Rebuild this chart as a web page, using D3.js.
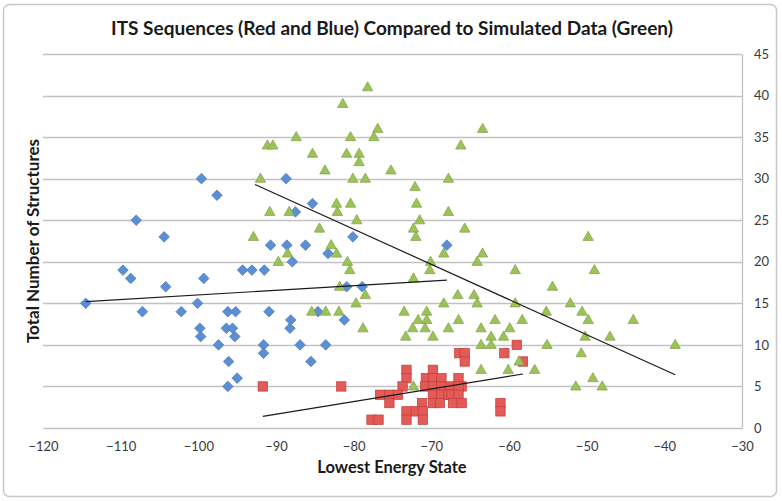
<!DOCTYPE html>
<html><head><meta charset="utf-8">
<script src="https://cdn.jsdelivr.net/npm/d3@7"></script>
<style>body{margin:0;background:#fff;}svg{display:block;font-family:Lato,"Open Sans",sans-serif;}</style>
</head><body><svg id="c" width="782" height="501"></svg>
<script>
const titleText = "ITS Sequences (Red and Blue) Compared to Simulated Data (Green)";
const xTitle = "Lowest Energy State";
const yTitle = "Total Number of Structures";
const xTicks = [-120,-110,-100,-90,-80,-70,-60,-50,-40,-30];
const yTicks = [0,5,10,15,20,25,30,35,40,45];

const blueX = [-114.5,-109.7,-108.7,-108.0,-107.2,-104.4,-104.2,-102.2,-100.1,-99.6,-99.3,-99.8,-99.7,-97.6,-97.4,-96.2,-95.2,-96.4,-95.6,-95.3,-96.1,-95.0,-96.2,-94.3,-93.1,-91.5,-90.7,-88.6,-86.2,-88.7,-85.3,-87.5,-80.1,-83.3,-87.9,-80.9,-78.9,-90.9,-84.6,-88.1,-88.2,-81.2,-91.6,-91.6,-86.9,-83.6,-85.5,-68.0];
const blueY = [15,19,18,25,14,23,17,14,15,30,18,12,11,28,10,14,14,12,12,11,8,6,5,19,19,19,22,22,22,30,27,26,23,21,20,17,17,14,14,13,12,13,10,9,10,10,8,22];

const redX = [-91.7,-81.6,-66.4,-65.7,-65.7,-59.0,-60.6,-58.2,-61.1,-61.1,
  -73.2,-69.8,
  -73.2,-70.7,-69.8,-68.7,-66.5,
  -73.7,-70.8,-69.8,-68.7,-67.6,-66.1,-66.5,
  -76.6,-75.4,-74.3,-69.8,-68.7,-67.8,-67.4,-66.5,
  -75.4,-71.2,-69.8,-68.9,-67.2,-66.1,
  -73.2,-72.0,-71.1,
  -77.7,-76.8,-73.2,-71.1];
const redY = [5,5,9,9,8,10,9,8,3,2,
  7,7,
  6,6,6,6,6,
  5,5,5,5,5,5,5,
  4,4,4,4,4,4,4,4,
  3,3,3,3,3,3,
  2,2,2,
  1,1,1,1];

const greenX = [-78.2,-81.4,-76.9,-77.4,-80.4,-87.4,-91.1,-90.4,-85.3,-80.9,-79.3,-79.3,-83.7,-75.2,-92.0,-80.1,-78.5,-72.1,-82.2,-80.4,-82.1,-71.9,-90.8,-88.3,-79.6,-71.5,-92.9,-84.4,-72.3,-72.0,-82.9,-88.5,-89.7,-82.2,-80.8,-80.5,-81.8,-78.5,-79.7,-70.1,-70.2,-72.3,-85.4,-83.6,-81.9,-78.8,-73.5,-70.6,-71.7,-70.6,-72.4,-70.8,-73.3,-69.8,-72.3,
  -63.4,-66.2,-67.8,-67.8,-65.7,-49.8,-68.4,-63.4,-64.1,-59.2,-49.0,-54.4,-66.6,-64.5,-68.4,-64.1,-59.2,-52.1,-55.2,-50.6,-66.5,-61.8,-58.3,-49.8,-67.8,-63.6,-59.9,-62.3,-60.7,-50.2,-63.6,-62.3,-55.1,-58.7,-50.7,-63.6,-60.1,-56.7,-49.2,-51.4,-48.0,-44.0,-47.0,-38.6];
const greenY = [41,39,36,35,35,35,34,34,33,33,33,32,31,31,30,30,30,29,27,27,26,27,26,26,25,25,23,24,24,23,22,21,20,21,20,19,17,16,15,20,19,18,14,14,14,12,14,14,13,13,12,12,11,11,5,
  36,34,30,26,24,23,21,21,20,19,19,17,16,16,15,15,15,15,14,14,13,13,13,13,12,12,12,11,11,11,10,10,10,8,9,7,7,7,6,5,5,13,11,10];

// trendline endpoints
const blueTrendX = [-114.5,-68.0], blueTrendY = [15.2,17.8];
const redTrendX = [-91.7,-58.2], redTrendY = [1.4,6.5];
const greenTrendX = [-92.7,-38.6], greenTrendY = [29.3,6.4];

const svg = d3.select("#c");
svg.append("rect").attr("x",3.5).attr("y",4.5).attr("width",773).attr("height",492).attr("rx",6)
  .attr("fill","#fff").attr("stroke","#c8c8c8").attr("stroke-width",1.5);

const x = d3.scaleLinear().domain([-120,-30]).range([43,742]);
const y = d3.scaleLinear().domain([0,45]).range([428,54]);

// gridlines
svg.append("g").selectAll("line").data(yTicks.filter(d=>d>0)).join("line")
  .attr("x1",x(-120)).attr("x2",x(-30)).attr("y1",d=>Math.round(y(d))+0.5).attr("y2",d=>Math.round(y(d))+0.5)
  .attr("stroke","#c2c2c2").attr("stroke-width",1.3);

// right axis
const ay = svg.append("g").attr("transform",`translate(${x(-30)},0)`).call(d3.axisRight(y).tickValues(yTicks).tickSize(0).tickPadding(12));
ay.select(".domain").attr("stroke","#c2c2c2").attr("stroke-width",1.3);
ay.selectAll("text").attr("font-size",13).attr("fill","#3a3a3a").attr("font-family","Lato,sans-serif");

// bottom axis
const ax = svg.append("g").attr("transform",`translate(0,${y(0)})`).call(d3.axisBottom(x).tickValues(xTicks).tickSize(0).tickPadding(14).tickFormat(d3.format("d")));
ax.select(".domain").attr("stroke","#c2c2c2").attr("stroke-width",1.3);
ax.selectAll("text").attr("font-size",13).attr("fill","#3a3a3a").attr("font-family","Lato,sans-serif");

const blue = blueX.map((v,i)=>[v,blueY[i]]);
const red = redX.map((v,i)=>[v,redY[i]]);
const green = greenX.map((v,i)=>[v,greenY[i]]);

svg.append("g").selectAll("path").data(blue).join("path")
  .attr("transform",d=>`translate(${x(d[0])},${y(d[1])})`)
  .attr("d","M0,-5.3L5.3,0L0,5.3L-5.3,0Z").attr("fill","#5a8fd4").attr("stroke","#4a78b5").attr("stroke-width",0.7);

svg.append("g").selectAll("rect").data(red).join("rect")
  .attr("x",d=>x(d[0])-4.7).attr("y",d=>y(d[1])-4.7).attr("width",9.4).attr("height",9.4)
  .attr("fill","#e35a57").attr("stroke","#c03e3c").attr("stroke-width",0.7);

svg.append("g").selectAll("path").data(green).join("path")
  .attr("transform",d=>`translate(${x(d[0])},${y(d[1])})`)
  .attr("d","M0,-5.6L5.2,3.6L-5.2,3.6Z").attr("fill","#9cc35a").attr("stroke","#7fa045").attr("stroke-width",0.7);

const trend = [[blueTrendX,blueTrendY],[redTrendX,redTrendY],[greenTrendX,greenTrendY]];
svg.append("g").selectAll("line").data(trend).join("line")
  .attr("x1",d=>x(d[0][0])).attr("y1",d=>y(d[1][0])).attr("x2",d=>x(d[0][1])).attr("y2",d=>y(d[1][1]))
  .attr("stroke","#1a1a1a").attr("stroke-width",1.2);

svg.append("text").attr("x",392).attr("y",35).attr("text-anchor","middle")
  .attr("font-size",19).attr("font-weight","bold").attr("fill","#1a1a1a").text(titleText);
svg.append("text").attr("x",392).attr("y",473).attr("text-anchor","middle")
  .attr("font-size",16.5).attr("font-weight","bold").attr("fill","#1a1a1a").text(xTitle);
svg.append("text").attr("transform","translate(39,241) rotate(-90)").attr("text-anchor","middle")
  .attr("font-size",17).attr("font-weight","bold").attr("fill","#1a1a1a").text(yTitle);
</script></body></html>
